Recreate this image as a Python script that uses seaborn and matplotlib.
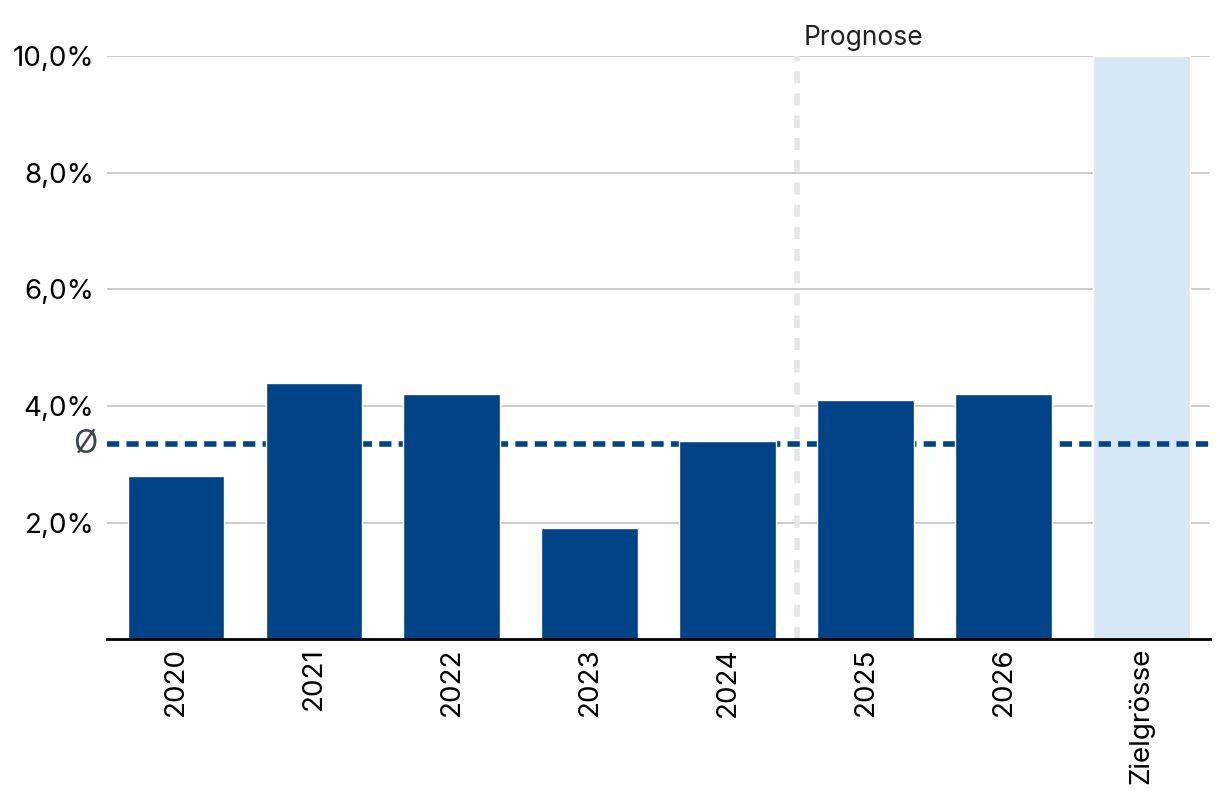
import numpy as np
import pandas as pd
import matplotlib.pyplot as plt
import seaborn as sns

categories = ["2020", "2021", "2022", "2023", "2024", "2025", "2026", "Zielgrösse"]
values = [2.8, 4.4, 4.2, 1.9, 3.4, 4.1, 4.2, 10.0]
kinds = ["ist", "ist", "ist", "ist", "ist", "prognose", "prognose", "ziel"]
avg_years = ["2020", "2021", "2022", "2023", "2024"]
yticks = [2, 4, 6, 8, 10]

sns.set_theme(style="white")
plt.rcParams['font.family'] = ['Inter', 'DejaVu Sans']

df = pd.DataFrame({"kategorie": categories, "wert": values, "art": kinds})
avg = df[df["kategorie"].isin(avg_years)]["wert"].mean()

fig, ax = plt.subplots(figsize=(12.2, 8.08), dpi=100)
fig.subplots_adjust(left=0.0877, right=0.992, top=0.9307, bottom=0.209)

# Zielgrösse liegt hinter der Durchschnittslinie, die Jahre davor
sns.barplot(data=df[df["art"] == "ziel"], x="kategorie", y="wert", order=categories,
            color="#d6e8f7", saturation=1, width=0.7, zorder=1, ax=ax)

ax.axhline(avg, color="#004387", lw=4, ls=(0, (2.2, 1.3)), zorder=2)

sns.barplot(data=df[df["art"] != "ziel"], x="kategorie", y="wert", order=categories,
            color="#004387", saturation=1, width=0.7, zorder=3, ax=ax)

ax.axvline(4.5, color="#e6e6e6", lw=4, ls=(0, (2.2, 1.8)), zorder=2.5)
ax.text(4.55, 10.08, "Prognose", fontsize=19, color="#222222", ha="left", va="bottom")

ax.text(-0.5, avg, "Ø ", fontsize=23, color="#3a4654", ha="right", va="center")

ax.set_xlim(-0.5, 7.5)
ax.set_ylim(0, 10)
ax.set_xticks(range(len(categories)))
ax.set_xticklabels(categories, rotation=90, fontsize=20, va="top", color="black")
ax.set_yticks(yticks)
ax.set_yticklabels([f"{t:.1f}%".replace(".", ",") for t in yticks], fontsize=20, color="black")
ax.yaxis.grid(True, color="#cccccc", lw=1.4, zorder=0)
ax.set_axisbelow(True)
ax.tick_params(axis="y", length=0, pad=9)
ax.tick_params(axis="x", length=0, pad=6)
for s in ["top", "right", "left"]:
    ax.spines[s].set_visible(False)
ax.spines["bottom"].set_color("black")
ax.spines["bottom"].set_linewidth(2)
ax.spines["bottom"].set_zorder(5)
ax.set_xlabel("")
ax.set_ylabel("")

fig.savefig("out.png", dpi=100)
